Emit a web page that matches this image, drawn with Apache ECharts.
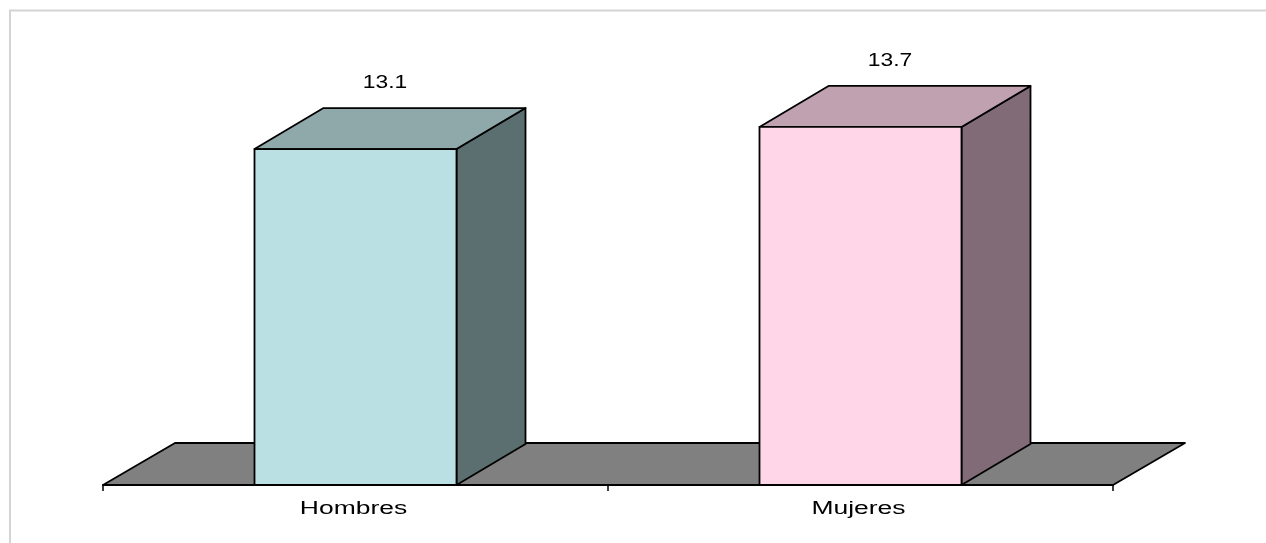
<!DOCTYPE html>
<html><head><meta charset="utf-8">
<script src="https://cdn.jsdelivr.net/npm/echarts@6/dist/echarts.min.js"></script>
<style>html,body{margin:0;padding:0;background:#fff}#c{width:1266px;height:543px}</style>
</head><body><div id="c"></div>
<script>
// ---- data ----
const categories = ['Hombres', 'Mujeres'];
const values = [13.1, 13.7];
const valueLabels = ['13.1', '13.7'];

// ---- styling ----
const AXIS_MIN = 4, AXIS_MAX = 16;
const BAR_DX = 69, BAR_DY = -41;
const FLOOR_DX = 72, FLOOR_DY = -42;
const faceColors = [
  { front: '#bbe0e3', top: '#8fa9ab', side: '#5c6f70' },
  { front: '#ffd5e8', top: '#c0a1af', side: '#816b76' }
];
const FONT = '"Liberation Sans", Arial, sans-serif';
const EDGE = { stroke: '#000', lineWidth: 1.8, lineJoin: 'round' };

function renderFloor(params, api) {
  const cs = params.coordSys;
  const x0 = cs.x, x1 = cs.x + cs.width, y = cs.y + cs.height;
  return {
    type: 'polygon',
    shape: { points: [[x0, y], [x1, y], [x1 + FLOOR_DX, y + FLOOR_DY], [x0 + FLOOR_DX, y + FLOOR_DY]] },
    style: Object.assign({ fill: '#808080' }, EDGE)
  };
}

function renderBar(params, api) {
  const idx = api.value(0), v = api.value(1);
  const top = api.coord([idx, v]);
  const bot = api.coord([idx, AXIS_MIN]);
  const bw = api.size([1, 0])[0] * 0.4;
  const xl = top[0] - bw / 2, xr = top[0] + bw / 2, yt = top[1], yb = bot[1];
  const c = faceColors[params.dataIndex % faceColors.length];
  return {
    type: 'group',
    children: [
      { type: 'polygon', shape: { points: [[xr, yt], [xr + BAR_DX, yt + BAR_DY], [xr + BAR_DX, yb + BAR_DY], [xr, yb]] },
        style: Object.assign({ fill: c.side }, EDGE) },
      { type: 'polygon', shape: { points: [[xl, yt], [xr, yt], [xr + BAR_DX, yt + BAR_DY], [xl + BAR_DX, yt + BAR_DY]] },
        style: Object.assign({ fill: c.top }, EDGE) },
      { type: 'polygon', shape: { points: [[xl, yt], [xr, yt], [xr, yb], [xl, yb]] },
        style: Object.assign({ fill: c.front }, EDGE) },
      { type: 'text', x: top[0] + BAR_DX / 2 - 5, y: yt + BAR_DY - 25, scaleX: 1.27,
        style: { text: valueLabels[params.dataIndex], fill: '#000', fontSize: 18, fontFamily: FONT,
                 align: 'center', verticalAlign: 'middle' } },
      { type: 'text', x: top[0] - 2, y: yb + 24, scaleX: 1.47,
        style: { text: categories[idx], fill: '#000', fontSize: 18, fontFamily: FONT,
                 align: 'center', verticalAlign: 'middle' } }
    ]
  };
}

const chart = echarts.init(document.getElementById('c'));
chart.setOption({
  animation: false,
  backgroundColor: '#fff',
  grid: { left: 103, right: 153, top: 42, bottom: 58 },
  xAxis: {
    type: 'category', data: categories, boundaryGap: true,
    axisLine: { show: true, lineStyle: { color: '#000', width: 1.8 } },
    axisTick: { show: true, length: 6, lineStyle: { color: '#000', width: 1.5 } },
    axisLabel: { show: false },
    splitLine: { show: false },
    z: 5
  },
  yAxis: { type: 'value', min: AXIS_MIN, max: AXIS_MAX, show: false, splitLine: { show: false } },
  graphic: [
    { type: 'line', shape: { x1: 9, y1: 10.5, x2: 1266, y2: 10.5 }, style: { stroke: '#d4d4d4', lineWidth: 2 } },
    { type: 'line', shape: { x1: 10, y1: 10, x2: 10, y2: 543 }, style: { stroke: '#d4d4d4', lineWidth: 2 } }
  ],
  series: [
    { type: 'custom', name: 'floor', renderItem: renderFloor, data: [[0, AXIS_MIN]], z: 1, silent: true },
    { type: 'custom', name: 'bars', renderItem: renderBar, data: values.map((v, i) => [i, v]), z: 3 }
  ]
});
</script>
</body></html>
